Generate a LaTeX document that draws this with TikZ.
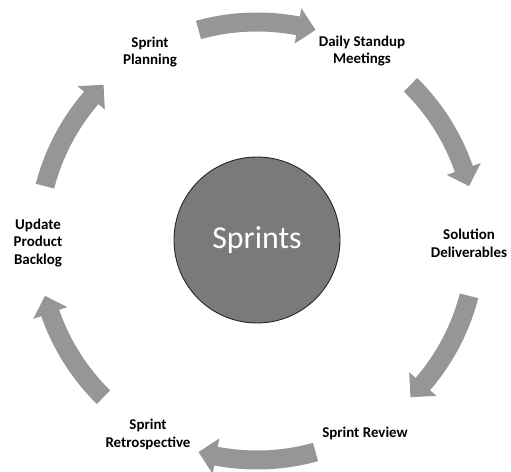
\documentclass[tikz,border=0pt]{standalone}
\usepackage{fontspec}
\setmainfont{Carlito}
\definecolor{arrowgray}{RGB}{150,150,150}
\definecolor{hubgray}{RGB}{122,122,122}
\tikzset{
  stage/.style={align=center, font=\bfseries\fontsize{15}{18}\selectfont, text=black, inner sep=0pt},
  hub/.style={circle, fill=hubgray, draw=black!85, line width=0.9bp, minimum size=166bp,
              text=white, font=\fontsize{32}{36}\selectfont, inner sep=0pt},
}
% curved block arrow on the cycle ring, centred on angle #1, running clockwise
\newcommand{\cyclearrow}[1]{%
  \pgfmathsetmacro\tailang{#1+15.5}%
  \pgfmathsetmacro\tipang{#1-15.5}%
  \pgfmathsetmacro\headang{#1-10.8}%
  \fill[arrowgray] (\tailang:228.5bp)
    arc[start angle=\tailang, end angle=\headang, radius=228.5bp]
    -- (\headang:237bp) -- (\tipang:219bp) -- (\headang:201bp)
    -- (\headang:209.5bp)
    arc[start angle=\headang, end angle=\tailang, radius=209.5bp] -- cycle;}
\begin{document}
\begin{tikzpicture}[x=1bp, y=1bp]
  \useasboundingbox (0,0) rectangle (511,472);
  \coordinate (ring) at (257,231);

  % cycle arrows
  \begin{scope}[shift={(ring)}]
    \foreach \a in {90,30,-30,-90,-150,150} {\cyclearrow{\a}}
  \end{scope}

  % central hub
  \node[hub] (hub) at (257,232) {Sprints};

  % stages of the sprint cycle
  \node[stage] (plan)     at (150,420) {Sprint\\Planning};
  \node[stage] (standup)  at (362,421) {Daily Standup\\Meetings};
  \node[stage] (deliver)  at (469,229) {Solution\\Deliverables};
  \node[stage] (review)   at (365,39)  {Sprint Review};
  \node[stage] (retro)    at (148,38)  {Sprint\\Retrospective};
  \node[stage] (backlog)  at (38,229)  {Update\\Product\\Backlog};
\end{tikzpicture}
\end{document}
